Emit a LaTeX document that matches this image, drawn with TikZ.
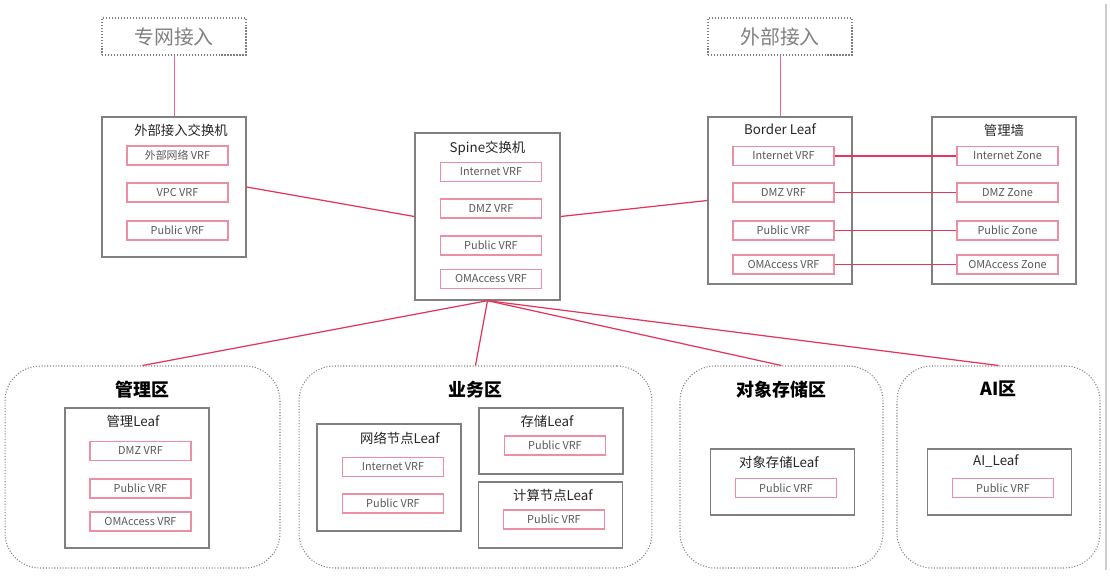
\documentclass[tikz,border=0pt]{standalone}
\usepackage{fontspec}
\setmainfont{Noto Sans CJK SC}
\usetikzlibrary{positioning}

\definecolor{linkred}{HTML}{E8335A}
\definecolor{vrfpink}{HTML}{EE8EA2}
\definecolor{boxgray}{HTML}{808080}
\definecolor{txtgray}{HTML}{595959}
\definecolor{titlegray}{HTML}{262626}

\tikzset{
 vrf/.style={draw=vrfpink, line width=0.8pt, minimum width=2.02cm, minimum height=0.38cm,
  inner sep=0pt, text=txtgray, font=\fontsize{6.2}{7}\selectfont},
 swbox/.style={draw=boxgray, line width=0.8pt, minimum width=2.88cm, inner sep=0pt},
 swtitle/.style={inner sep=0pt, text=titlegray, font=\fontsize{7.6}{9}\selectfont},
 access/.style={draw=boxgray, densely dotted, line width=0.7pt, minimum width=2.88cm,
  minimum height=0.74cm, inner sep=0pt, text=boxgray, font=\fontsize{11.3}{13}\selectfont},
 zone/.style={draw=boxgray, densely dotted, line width=0.6pt, rounded corners=0.7cm,
  minimum height=4.04cm, inner sep=0pt},
 zonetitle/.style={inner sep=0pt, text=black, font=\fontsize{10.2}{12}\selectfont\bfseries},
 link/.style={draw=linkred, line width=0.7pt},
 uplink/.style={draw=linkred!75, line width=0.5pt}
}

\begin{document}
\begin{tikzpicture}[x=0.02cm, y=-0.02cm]
 \useasboundingbox (0,0) rectangle (1110,578);
 \draw[white!80!black, line width=0.8pt] (1106,4) -- (1106,570); %右端

 %接入
 \node[access] (zw) at (174,36.5) {专网接入};
 \node[access] (wb) at (780,36.5) {外部接入};

 %外部接入交换机
 \node[swbox, minimum height=2.8cm] (extsw) at (174,187) {};
 \node[swtitle, below=0.15cm of extsw.north, xshift=0.14cm] {外部接入交换机};
 \node[vrf] (extnet) at (177.5,155.5) {外部网络 VRF};
 \node[vrf] (extvpc) at (177.5,192.5) {VPC VRF};
 \node[vrf] (extpub) at (177.5,230.5) {Public VRF};

 %Spine
 \node[swbox, minimum width=2.9cm, minimum height=3.34cm] (spine) at (487.5,216.5) {};
 \node[swtitle, below=0.16cm of spine.north] {Spine交换机};
 \node[vrf] (spinet) at (491,172) {Internet VRF};
 \node[vrf] (spdmz) at (491,208.5) {DMZ VRF};
 \node[vrf] (sppub) at (491,245.5) {Public VRF};
 \node[vrf] (spom) at (491,279) {OMAccess VRF};

 %Border Leaf
 \node[swbox, minimum height=3.34cm] (border) at (780,200.5) {};
 \node[swtitle, below=0.15cm of border.north] {Border Leaf};
 \node[vrf] (binet) at (783.5,156) {Internet VRF};
 \node[vrf] (bdmz) at (783.5,192.5) {DMZ VRF};
 \node[vrf] (bpub) at (783.5,230.5) {Public VRF};
 \node[vrf] (bom) at (783.5,264.5) {OMAccess VRF};

 %管理墙
 \node[swbox, minimum height=3.34cm] (fw) at (1004,200.5) {};
 \node[swtitle, below=0.15cm of fw.north] {管理墙};
 \node[vrf] (finet) at (1007.5,156) {Internet Zone};
 \node[vrf] (fdmz) at (1007.5,192.5) {DMZ Zone};
 \node[vrf] (fpub) at (1007.5,230.5) {Public Zone};
 \node[vrf] (fom) at (1007.5,264.5) {OMAccess Zone};

 %区域
 \node[zone, minimum width=5.5cm] (mgmtzone) at (142.5,467) {};
 \node[zonetitle, below=0.3cm of mgmtzone.north] {管理区};
 \node[zone, minimum width=7.06cm] (bizzone) at (475.5,467) {};
 \node[zonetitle, below=0.3cm of bizzone.north] {业务区};
 \node[zone, minimum width=4.06cm] (objzone) at (781.5,467) {};
 \node[zonetitle, below=0.3cm of objzone.north] {对象存储区};
 \node[zone, minimum width=4.06cm] (aizone) at (998.5,467) {};
 \node[zonetitle, below=0.3cm of aizone.north] {AI区};

 %管理Leaf
 \node[swbox, minimum height=2.8cm] (mgmtleaf) at (137,478) {};
 \node[swtitle, below=0.15cm of mgmtleaf.north, xshift=-0.08cm] {管理Leaf};
 \node[vrf] (mdmz) at (140.5,451) {DMZ VRF};
 \node[vrf] (mpub) at (140.5,488.5) {Public VRF};
 \node[vrf] (mom) at (140.5,521.5) {OMAccess VRF};

 %业务区 Leaf
 \node[swbox, minimum height=2.14cm] (netleaf) at (389,477.5) {};
 \node[swtitle, below=0.16cm of netleaf.north, xshift=0.22cm] {网络节点Leaf};
 \node[vrf] (ninet) at (393,467) {Internet VRF};
 \node[vrf] (npub) at (393,503.5) {Public VRF};
 \node[swbox, minimum height=1.32cm] (storleaf) at (551,441) {};
 \node[swtitle, below=0.15cm of storleaf.north, xshift=-0.08cm] {存储Leaf};
 \node[vrf] (spub) at (555,445.5) {Public VRF};
 \node[swbox, minimum height=1.32cm] (compleaf) at (550.5,515) {};
 \node[swtitle, below=0.16cm of compleaf.north, xshift=0.05cm] {计算节点Leaf};
 \node[vrf] (cpub) at (554,519.5) {Public VRF};

 %对象存储Leaf / AI_Leaf
 \node[swbox, minimum height=1.32cm] (objleaf) at (782.5,482) {};
 \node[swtitle, below=0.15cm of objleaf.north, xshift=-0.07cm] {对象存储Leaf};
 \node[vrf] (opub) at (786,488) {Public VRF};
 \node[swbox, minimum height=1.32cm] (aileaf) at (999.5,482) {};
 \node[swtitle, below=0.12cm of aileaf.north, xshift=-0.07cm] {AI\_Leaf};
 \node[vrf] (apub) at (1003,488) {Public VRF};

 %连线
 \draw[uplink] (zw) -- (extsw);
 \draw[uplink] (wb) -- (border.north -| wb.south);
 \draw[link] (extsw.east) -- (spine.west);
 \draw[link] (spine.east) -- (border.west);
 \draw[link] (binet) -- (finet);
 \draw[link] (bdmz) -- (fdmz);
 \draw[link] (bpub) -- (fpub);
 \draw[link] (bom) -- (fom);
 \foreach \z in {mgmtzone,bizzone,objzone,aizone}
  \draw[link] (spine.south) -- (\z.north);
\end{tikzpicture}
\end{document}
